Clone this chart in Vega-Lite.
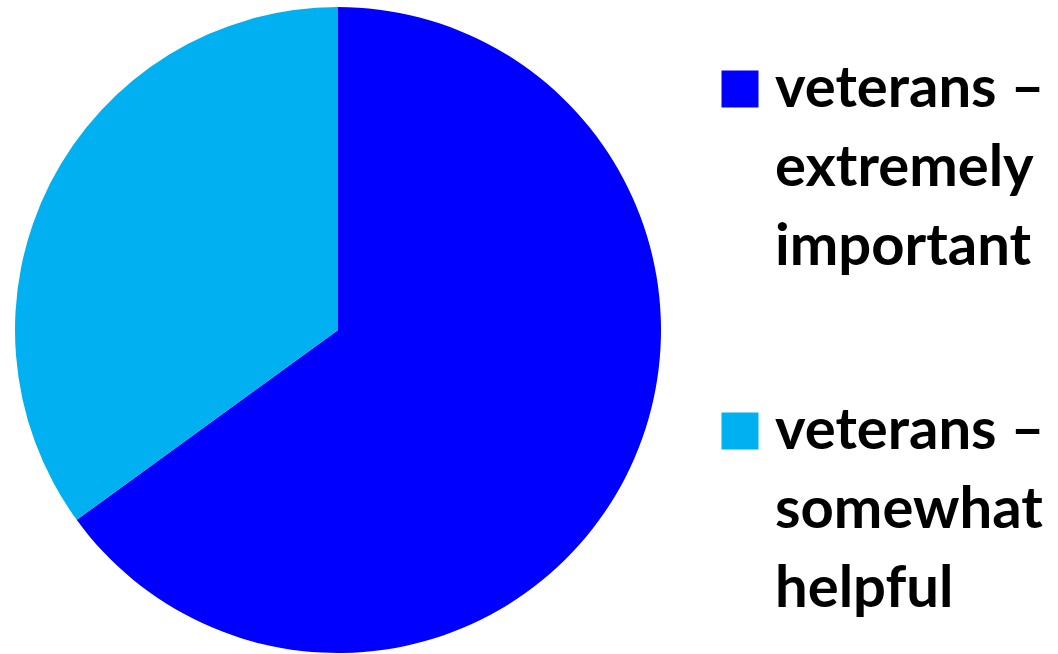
{
  "$schema": "https://vega.github.io/schema/vega-lite/v6.json",
  "width": 676,
  "height": 660,
  "autosize": "none",
  "padding": {"left": 0, "top": 0, "right": 382, "bottom": 0},
  "background": "white",
  "data": {
    "values": [
      {"group": "veterans –|extremely|important", "share": 65, "order": 1},
      {"group": "veterans –|somewhat|helpful", "share": 35, "order": 2}
    ]
  },
  "mark": {"type": "arc", "outerRadius": 323},
  "encoding": {
    "theta": {"field": "share", "type": "quantitative", "stack": true},
    "order": {"field": "order", "type": "quantitative"},
    "color": {
      "field": "group",
      "type": "nominal",
      "scale": {
        "domain": ["veterans –|extremely|important", "veterans –|somewhat|helpful"],
        "range": ["#0000FF", "#00B0F0"]
      },
      "legend": {
        "title": null,
        "orient": "none",
        "legendX": 711,
        "legendY": 60,
        "padding": 0,
        "symbolType": "square",
        "symbolSize": 1369,
        "symbolStrokeWidth": 0,
        "labelExpr": "split(datum.label, '|')",
        "labelFont": "Lato",
        "labelFontSize": 58,
        "labelFontWeight": "bold",
        "labelColor": "black",
        "labelLimit": 0,
        "labelBaseline": "alphabetic",
        "labelOffset": 6,
        "rowPadding": 125
      }
    }
  },
  "config": {
    "view": {"stroke": null},
    "style": {"guide-label": {"lineHeight": 79, "dy": 18}}
  }
}
